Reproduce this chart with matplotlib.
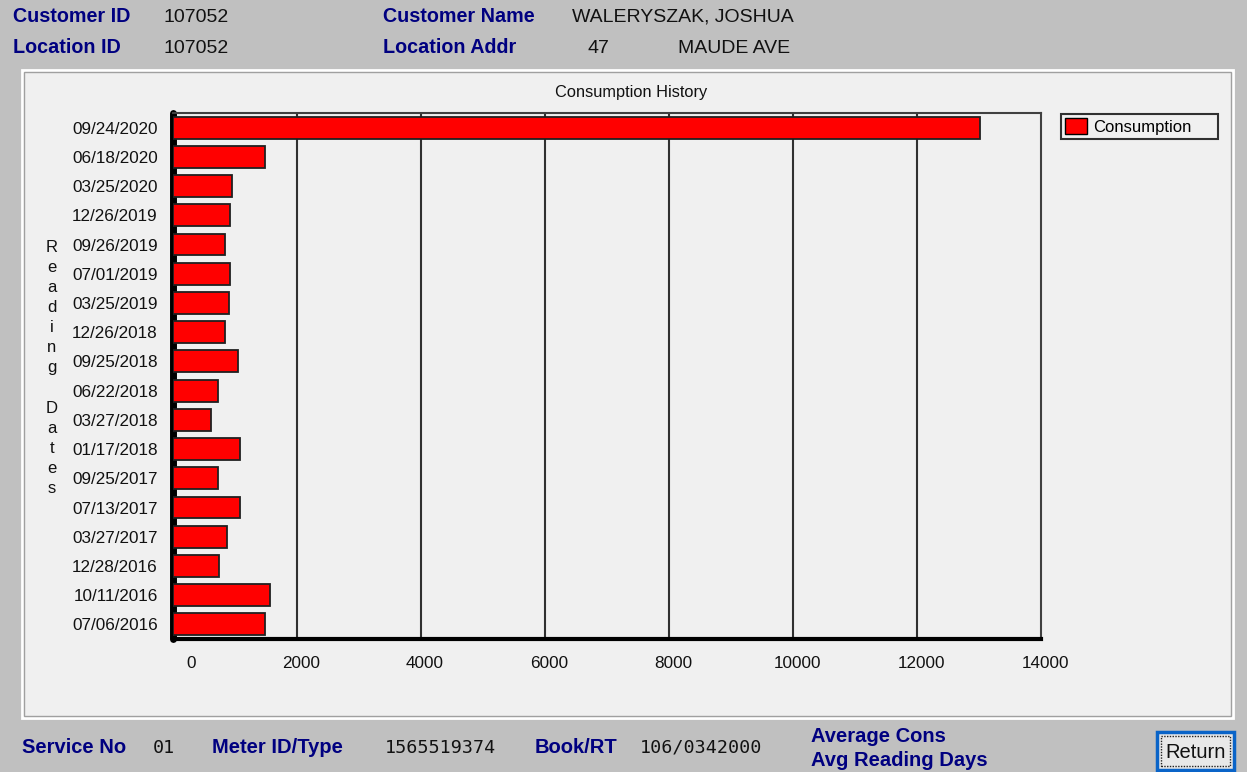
import matplotlib.pyplot as plt
from matplotlib.patches import Rectangle, Patch
from matplotlib.transforms import offset_copy

W, H = 1247, 772
FONT = ['Liberation Sans', 'DejaVu Sans']
NAVY = '#000080'

dates = ['09/24/2020', '06/18/2020', '03/25/2020', '12/26/2019', '09/26/2019', '07/01/2019',
         '03/25/2019', '12/26/2018', '09/25/2018', '06/22/2018', '03/27/2018', '01/17/2018',
         '09/25/2017', '07/13/2017', '03/27/2017', '12/28/2016', '10/11/2016', '07/06/2016']
consumption = [13010, 1490, 950, 920, 840, 920, 900, 840, 1050, 720, 610, 1080,
               720, 1080, 870, 740, 1560, 1490]
xticks = [0, 2000, 4000, 6000, 8000, 10000, 12000, 14000]


def px(x, y):
    return x / W, 1 - y / H


plt.rcParams['font.family'] = FONT
fig = plt.figure(figsize=(W / 100, H / 100), dpi=100, facecolor='#c0c0c0')

# chart panel with a sunken border
x0, y0 = px(22, 718)
fig.add_artist(Rectangle((x0, y0), (1233 - 22) / W, (718 - 70) / H, transform=fig.transFigure,
                         facecolor='#f0f0f0', edgecolor='#ffffff', lw=2, zorder=0))
x0, y0 = px(24, 716)
fig.add_artist(Rectangle((x0, y0), (1231 - 24) / W, (716 - 72) / H, transform=fig.transFigure,
                         facecolor='none', edgecolor='#a0a0a0', lw=1, zorder=0))

l, t = px(173, 113)
r, b = px(1041, 639)
ax = fig.add_axes([l, b, r - l, t - b])
ax.set_facecolor('#f0f0f0')

ax.barh(dates, consumption, height=0.75, color='#ff0000', edgecolor='#202020', lw=1.3, zorder=3)
ax.set_ylim(len(dates) - 0.5, -0.5)
ax.set_xlim(0, 14000)
ax.set_xticks(xticks)
ax.set_xticklabels([str(v) for v in xticks])
for v in xticks[1:-1]:
    ax.axvline(v, color='#303030', lw=1.5, zorder=1)

ax.tick_params(axis='both', length=0, labelsize=12.3, colors='#111111')
ax.tick_params(axis='y', pad=11)
ax.tick_params(axis='x', pad=12)
for i, lab in enumerate(ax.get_xticklabels()):
    dx = 18 if i == 0 else 4
    lab.set_transform(offset_copy(lab.get_transform(), fig=fig, x=dx, y=0, units='dots'))

ax.spines['left'].set_linewidth(5)
ax.spines['left'].set_color('black')
ax.spines['left'].set_capstyle('round')
ax.spines['bottom'].set_linewidth(3)
ax.spines['bottom'].set_color('black')
ax.spines['top'].set_linewidth(1.5)
ax.spines['top'].set_color('#404040')
ax.spines['right'].set_linewidth(1.5)
ax.spines['right'].set_color('#404040')

ax.set_xlabel('Consumption Units', fontsize=12, color='#111111')
ax.xaxis.set_label_coords(613, H - 696, transform=None)
ax.xaxis.label.set_va('center')

fig.text(*px(631, 92), 'Consumption History', ha='center', va='center', fontsize=11.8, color='#111111')
fig.text(*px(52, 368), 'R\ne\na\nd\ni\nn\ng\n\nD\na\nt\ne\ns', ha='center', va='center',
         fontsize=12, linespacing=1.42, color='#111111')

lx, ly = px(1061, 139)
leg = fig.legend(handles=[Patch(facecolor='#ff0000', edgecolor='black', label='Consumption')],
                 loc='lower left', bbox_to_anchor=(lx, ly, (1218 - 1061) / W, (139 - 115) / H),
                 mode='expand', frameon=True, fancybox=False, edgecolor='#303030', framealpha=1,
                 facecolor='#f0f0f0', fontsize=12, borderpad=0.25, borderaxespad=0,
                 handlelength=1.3, handleheight=1.1, handletextpad=0.4)
leg.get_frame().set_linewidth(1.5)

# header (positions are baselines)
hdr = [(13, 22, 'Customer ID', True), (163, 22, '107052', False),
       (383, 22, 'Customer Name', True), (572, 22, 'WALERYSZAK, JOSHUA', False),
       (13, 53, 'Location ID', True), (163, 53, '107052', False),
       (383, 53, 'Location Addr', True), (588, 53, '47', False), (678, 53, 'MAUDE AVE', False)]
for x, y, s, bold in hdr:
    fig.text(*px(x, y), s, ha='left', va='baseline', fontsize=14.2 if bold else 14,
             fontweight='bold' if bold else 'normal', color=NAVY if bold else '#111111')

# footer
ftr = [(22, 753, 'Service No'), (212, 753, 'Meter ID/Type'),
       (535, 753, 'Book/RT'), (811, 742, 'Average Cons'),
       (811, 766, 'Avg Reading Days')]
for x, y, s in ftr:
    fig.text(*px(x, y), s, ha='left', va='baseline', fontsize=14.5, fontweight='bold', color=NAVY)
for x, s in [(153, '01'), (385, '1565519374'), (640, '106/0342000')]:
    fig.text(*px(x, 753), s, ha='left', va='baseline', fontsize=13.2, color='#111111',
             family='DejaVu Sans Mono')

# Return button
bx, by = px(1157, 770)
fig.add_artist(Rectangle((bx, by), 77 / W, 38 / H, transform=fig.transFigure,
                         facecolor='#e8e8e8', edgecolor='#0a64c8', lw=2.5))
bx, by = px(1161, 766)
fig.add_artist(Rectangle((bx, by), 69 / W, 30 / H, transform=fig.transFigure,
                         facecolor='none', edgecolor='#222222', lw=1, ls=(0, (1, 1))))
fig.text(*px(1196, 752), 'Return', ha='center', va='center', fontsize=14.5, color='#111111')

fig.savefig('out.png', dpi=100)
